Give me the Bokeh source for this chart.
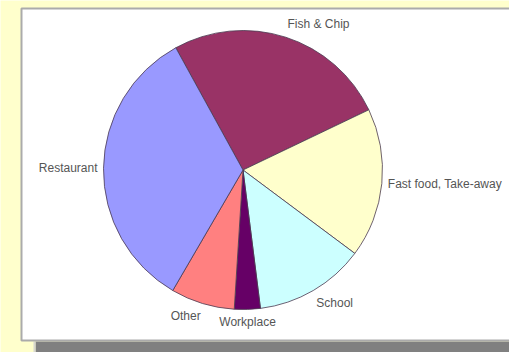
import math
from bokeh.plotting import figure
from bokeh.models import Range1d, ColumnDataSource
from bokeh.core.properties import value
from bokeh.embed import file_html
from bokeh.resources import INLINE

# Data (percent shares, read clockwise from the Fish & Chip slice)
categories = ["Fish & Chip", "Fast food, Take-away", "School", "Workplace", "Other", "Restaurant"]
shares = [25.9, 17.3, 12.8, 3.0, 7.4, 33.6]
colors = ["#993366", "#FFFFCC", "#CCFFFF", "#660066", "#FF8080", "#9999FF"]

W, H = 509, 352
p = figure(width=W, height=H, output_backend="svg", toolbar_location=None,
           x_range=Range1d(0, W), y_range=Range1d(0, H),
           x_axis_location=None, y_axis_location=None, min_border=0)
p.grid.visible = False
p.outline_line_color = None
p.background_fill_color = "#FFFFCC"
p.border_fill_color = "#FFFFCC"

# decorative panel + shadow bar
p.quad(left=[35], right=[W], bottom=[0], top=[H - 341], fill_color="#808080", line_color=None)
p.quad(left=[33], right=[35], bottom=[0], top=[H - 341], fill_color="#D8D8D0", line_color=None)
p.quad(left=[21], right=[W + 2], bottom=[H - 340], top=[H - 8], fill_color="white",
       line_color="#ABABAB", line_width=2)

# pie
cx, cy, r = 242.5, H - 169.5, 139.5
start_deg = 118.8
total = sum(shares)
starts, ends, mids = [], [], []
cum = 0.0
for s in shares:
    a_end = math.radians(start_deg - cum / total * 360)
    cum += s
    a_start = math.radians(start_deg - cum / total * 360)
    starts.append(a_start)
    ends.append(a_end)
    mids.append((a_start + a_end) / 2)

src = ColumnDataSource(dict(start=starts, end=ends, color=colors, cat=categories))
p.wedge(x=cx, y=cy, radius=r, start_angle="start", end_angle="end", direction="anticlock",
        fill_color="color", line_color="#4A3A50", line_width=0.8, source=src)

# labels
gap = 6
for cat, m in zip(categories, mids):
    c, s = math.cos(m), math.sin(m)
    lx, ly = cx + (r + gap) * c, cy + (r + gap) * s
    align = "left" if c > 0.2 else ("right" if c < -0.2 else "center")
    base = "bottom" if s > 0.3 else ("top" if s < -0.3 else "middle")
    p.text(x=[lx], y=[ly], text=[cat], text_font=value("Liberation Sans"),
           text_font_size="12px", text_color="#555555", text_align=align, text_baseline=base)

open("out.html", "w").write(file_html(p, INLINE))
